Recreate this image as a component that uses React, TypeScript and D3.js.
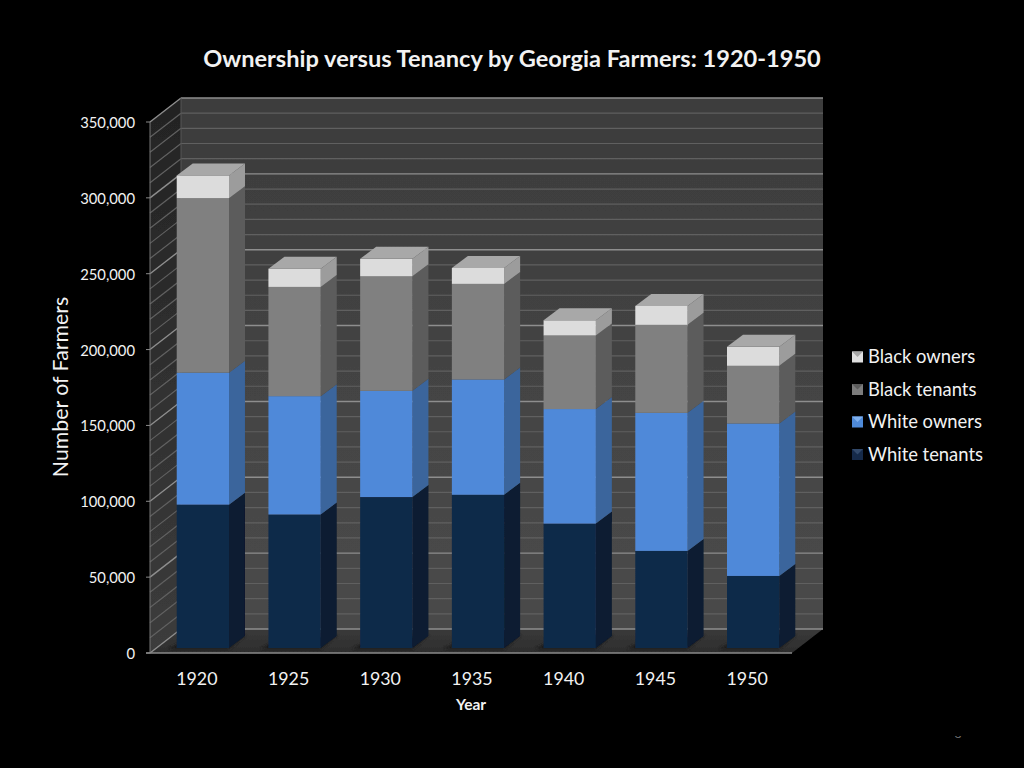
import * as d3 from "d3";

const years = ["1920", "1925", "1930", "1935", "1940", "1945", "1950"];
const whiteTenants = [94500, 88000, 99500, 101000, 82000, 64000, 47500];
const whiteOwners = [87000, 78000, 70000, 76000, 75500, 91000, 100500];
const blackTenants = [115000, 72000, 75500, 63000, 48500, 58000, 38000];
const blackOwners = [15000, 12000, 11500, 10500, 10000, 12500, 12500];

const seriesNames = ["White tenants", "White owners", "Black tenants", "Black owners"];
const seriesValues = [whiteTenants, whiteOwners, blackTenants, blackOwners];
const yTicks = [0, 50000, 100000, 150000, 200000, 250000, 300000, 350000];
const minorTicks = d3.range(0, 350001, 10000);

const FRONT = ["#10294a", "#5089d9", "#808080", "#dcdcdc"];
const SIDE = ["#0a1a30", "#3a659c", "#5c5c5c", "#9c9c9c"];
const SWATCH = ["#12294a", "#4f8ad8", "#7c7c7c", "#e0e0e0"];
const BEVEL = ["#31496a", "#7fb0ee", "#5c5c5c", "#a8a8a8"];
const TOP_COLOR = "#a8a8a8";

const FONT = "Lato, Carlito, sans-serif";

const LEFT = 150;
const RIGHT = 792;
const BASE = 653;
const TOP = 122;
const DX = 31;
const DY = 24;
const BAR_DX = 16;
const BAR_DY = 12;
const BAR_OFF_X = 7;
const BAR_OFF_Y = 5;

const poly = (pts: number[][]) => pts.map((p) => p.join(",")).join(" ");

export default function App() {
  const x = d3.scaleBand().domain(years).range([LEFT, RIGHT]).paddingInner(0.43).paddingOuter(0.215);
  const y = d3.scaleLinear().domain([0, 350000]).range([BASE, TOP]);
  const fmt = d3.format(",d");

  const rows = years.map((year, i) => {
    const row: Record<string, any> = { year };
    seriesNames.forEach((name, s) => (row[name] = seriesValues[s][i]));
    return row;
  });
  const stacked = d3.stack().keys(seriesNames)(rows as any);
  const legendScale = d3.scalePoint().domain([...seriesNames].reverse()).range([357, 454.5]);

  return (
    <svg
      width={1024}
      height={768}
      style={{ position: "absolute", left: 0, top: 0, background: "#000" }}
    >
      <defs>
        <linearGradient id="wall" x1="0" y1="0" x2="0" y2="1">
          <stop offset="0" stopColor="#3c3c3c" />
          <stop offset="1" stopColor="#4a4a4a" />
        </linearGradient>
        <linearGradient id="sideWall" x1="0" y1="0" x2="0" y2="1">
          <stop offset="0" stopColor="#232323" />
          <stop offset="1" stopColor="#3c3c3c" />
        </linearGradient>
        <linearGradient id="floor" x1="0" y1="0" x2="0" y2="1">
          <stop offset="0" stopColor="#3a3a3a" />
          <stop offset="1" stopColor="#2c2c2c" />
        </linearGradient>
        <filter id="soft">
          <feGaussianBlur stdDeviation="0.5" />
        </filter>
        <filter id="shadow">
          <feGaussianBlur stdDeviation="1.5" />
        </filter>
        <clipPath id="pageNum">
          <rect x={950} y={736} width={16} height={3} />
        </clipPath>
      </defs>

      <g filter="url(#soft)">
        {/* walls and floor */}
        <polygon
          points={poly([[LEFT, y(0)], [LEFT + DX, y(0) - DY], [LEFT + DX, y(350000) - DY], [LEFT, y(350000)]])}
          fill="url(#sideWall)"
        />
        <rect
          x={LEFT + DX}
          y={y(350000) - DY}
          width={RIGHT - LEFT}
          height={y(0) - y(350000)}
          fill="url(#wall)"
        />
        <polygon
          points={poly([[LEFT, y(0)], [RIGHT, y(0)], [RIGHT + DX, y(0) - DY], [LEFT + DX, y(0) - DY]])}
          fill="url(#floor)"
        />

        {/* grid lines, ten thousands faint and fifty thousands bright */}
        {minorTicks.map((t) => {
          const major = t % 50000 === 0;
          const c = major ? "#8e8e8e" : "#616161";
          return (
            <g key={t} stroke={c} strokeWidth={major ? 1.4 : 1.2}>
              <line x1={LEFT} y1={y(t)} x2={LEFT + DX} y2={y(t) - DY} />
              <line x1={LEFT + DX} y1={y(t) - DY} x2={RIGHT + DX} y2={y(t) - DY} />
            </g>
          );
        })}
        <line x1={LEFT + DX} y1={y(0) - DY} x2={LEFT + DX} y2={y(350000) - DY} stroke="#555" />
        <line x1={LEFT} y1={y(0)} x2={LEFT} y2={y(350000)} stroke="#777" />
        <line x1={LEFT - 4} y1={y(0)} x2={RIGHT} y2={y(0)} stroke="#8a8a8a" strokeWidth={1.6} />
        {yTicks.map((t) => (
          <line key={t} x1={LEFT - 4} y1={y(t)} x2={LEFT} y2={y(t)} stroke="#8a8a8a" />
        ))}

        {/* floor shadows */}
        {years.map((yr) => {
          const x0 = x(yr)! + BAR_OFF_X;
          const b = y(0) - BAR_OFF_Y;
          return (
            <polygon
              key={yr}
              filter="url(#shadow)"
              points={poly([
                [x0 - 8, b + 1],
                [x0 + x.bandwidth(), b + 1],
                [x0 + x.bandwidth() + BAR_DX + 1, b - BAR_DY - 1],
                [x0 + BAR_DX, b - BAR_DY - 1],
              ])}
              fill="#1e1e1e"
            />
          );
        })}

        {/* bars */}
        {stacked.map((layer, s) =>
          layer.map((d, i) => {
            const x0 = x(years[i])! + BAR_OFF_X;
            const x1 = x0 + x.bandwidth();
            const y0 = y(d[0]) - BAR_OFF_Y;
            const y1 = y(d[1]) - BAR_OFF_Y;
            return (
              <g key={`${s}-${i}`}>
                <polygon
                  points={poly([[x1, y0], [x1 + BAR_DX, y0 - BAR_DY], [x1 + BAR_DX, y1 - BAR_DY], [x1, y1]])}
                  fill={SIDE[s]}
                />
                <rect x={x0} y={y1} width={x.bandwidth()} height={y0 - y1} fill={FRONT[s]} />
                {s === seriesNames.length - 1 && (
                  <polygon
                    points={poly([[x0, y1], [x1, y1], [x1 + BAR_DX, y1 - BAR_DY], [x0 + BAR_DX, y1 - BAR_DY]])}
                    fill={TOP_COLOR}
                  />
                )}
              </g>
            );
          })
        )}

        {/* legend swatches, each a small bevelled block */}
        {seriesNames.map((name, s) => {
          const cy = legendScale(name)!;
          return (
            <g key={name}>
              <rect x={852} y={cy - 5.5} width={11} height={11} fill={SWATCH[s]} />
              <polygon
                points={poly([[852, cy - 5.5], [863, cy - 5.5], [857.5, cy]])}
                fill={BEVEL[s]}
              />
            </g>
          );
        })}
      </g>

      <g fontFamily={FONT} fill="#f2f2f2">
        <text x={512} y={67} textAnchor="middle" fontSize={23.6} fontWeight={700}>
          Ownership versus Tenancy by Georgia Farmers: 1920-1950
        </text>
        {yTicks.map((t) => (
          <text key={t} x={135} y={y(t) + 6} textAnchor="end" fontSize={14.8}>
            {fmt(t)}
          </text>
        ))}
        {years.map((yr) => (
          <text key={yr} x={x(yr)! + x.bandwidth() / 2 + 1} y={685} textAnchor="middle" fontSize={17.8}>
            {yr}
          </text>
        ))}
        <text x={471} y={710} textAnchor="middle" fontSize={15.5} fontWeight={700}>
          Year
        </text>
        <text
          transform="translate(68,387) rotate(-90)"
          textAnchor="middle"
          fontSize={21.3}
        >
          Number of Farmers
        </text>
        {seriesNames.map((name) => (
          <text key={name} x={868} y={legendScale(name)! + 6} fontSize={18.4}>
            {name}
          </text>
        ))}
        <g clipPath="url(#pageNum)">
          <text x={958} y={738} textAnchor="middle" fontSize={12} fill="#777">
            8
          </text>
        </g>
      </g>
    </svg>
  );
}
